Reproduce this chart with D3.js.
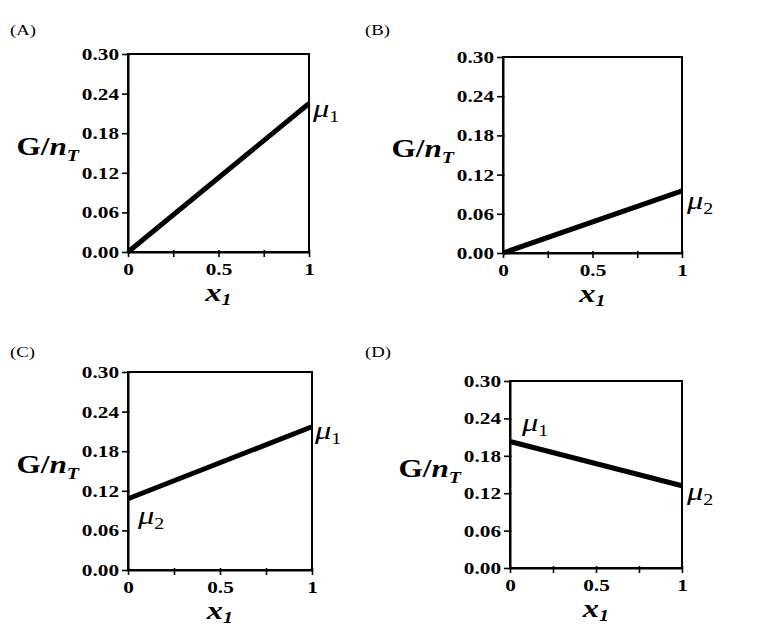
<!DOCTYPE html>
<html>
<head>
<meta charset="utf-8">
<script src="https://cdn.jsdelivr.net/npm/d3@7"></script>
<style>
  body { margin: 0; background: #fff; }
  text { font-family: "Liberation Serif", "Times New Roman", serif; fill: #000; }
</style>
</head>
<body>
<script>
// values
var panelNames = ["(A)", "(B)", "(C)", "(D)"];
var xValues = [0, 1];
var gA = [0.000, 0.225];
var gB = [0.000, 0.095];
var gC = [0.108, 0.217];
var gD = [0.203, 0.132];
var yTicks = [0, 0.06, 0.12, 0.18, 0.24, 0.30];
var yTickLabels = ["0.00", "0.06", "0.12", "0.18", "0.24", "0.30"];
var xTicks = [0, 0.25, 0.5, 0.75, 1];
var xTickLabels = ["0", "", "0.5", "", "1"];
// mu labels: index into xValues and subscript
var muA = [{ end: 1, sub: "1" }];
var muB = [{ end: 1, sub: "2" }];
var muC = [{ end: 1, sub: "1" }, { end: 0, sub: "2" }];
var muD = [{ end: 0, sub: "1" }, { end: 1, sub: "2" }];

var SX = 1.25; // the original figure is stretched sideways

var panels = [
    { name: panelNames[0], g: gA, mu: muA, left: 128, top: 54, right: 309, bottom: 252, lx: 10, ly: 35,
      muPos: [[4, 13]] },
    { name: panelNames[1], g: gB, mu: muB, left: 503, top: 57, right: 682, bottom: 253, lx: 365, ly: 35,
      muPos: [[5, 18]] },
    { name: panelNames[2], g: gC, mu: muC, left: 128, top: 372, right: 312, bottom: 570, lx: 10, ly: 357,
      muPos: [[3, 12], [10, 25]] },
    { name: panelNames[3], g: gD, mu: muD, left: 510, top: 381, right: 682, bottom: 568, lx: 365, ly: 357,
      muPos: [[12, -10], [5, 14]] }
];

var svg = d3.select("body")
    .append("svg")
    .attr("width", 774)
    .attr("height", 641);

function stretched(sel, x, y, anchor) {
    return sel.append("text")
        .attr("text-anchor", anchor)
        .attr("transform", "translate(" + x + "," + y + ") scale(" + SX + ",1)");
}

panels.forEach(function (p) {
    var x = d3.scaleLinear().domain([0, 1]).range([p.left, p.right]);
    var y = d3.scaleLinear().domain([0, 0.30]).range([p.bottom, p.top]);
    var g = svg.append("g");

    // panel letter
    stretched(g, p.lx, p.ly, "start")
        .style("font-size", "15px")
        .text(p.name);

    // y axis
    var ya = g.append("g")
        .attr("transform", "translate(" + p.left + ",0)")
        .call(d3.axisLeft(y)
            .tickValues(yTicks)
            .tickFormat(function (d, i) { return yTickLabels[i]; })
            .tickSize(6)
            .tickSizeOuter(0));

    // x axis
    var xa = g.append("g")
        .attr("transform", "translate(0," + p.bottom + ")")
        .call(d3.axisBottom(x)
            .tickValues(xTicks)
            .tickFormat(function (d, i) { return xTickLabels[i]; })
            .tickSize(5)
            .tickSizeOuter(0));

    [ya, xa].forEach(function (a) {
        a.select(".domain").attr("stroke-width", 2);
        a.selectAll(".tick line").attr("stroke-width", 1.6);
        a.selectAll(".tick text")
            .style("font-family", "'Liberation Serif', 'Times New Roman', serif")
            .style("font-size", "17px")
            .style("font-weight", "bold")
            .attr("transform", "scale(" + SX + ",1)");
    });
    ya.selectAll(".tick line").attr("x2", -6).attr("x1", 1.5);
    ya.selectAll(".tick text").attr("x", -9 / SX);
    xa.selectAll(".tick line").attr("y1", -2).attr("y2", 5);
    xa.selectAll(".tick text").attr("y", 11).attr("x", 0);
    xa.selectAll(".tick text").filter(function () { return this.textContent === ""; }).remove();

    // frame
    g.append("rect")
        .attr("x", p.left)
        .attr("y", p.top)
        .attr("width", p.right - p.left)
        .attr("height", p.bottom - p.top)
        .attr("fill", "none")
        .attr("stroke", "#000")
        .attr("stroke-width", 2);

    // G/n_T line
    var line = d3.line()
        .x(function (d, i) { return x(xValues[i]); })
        .y(function (d) { return y(d); });
    g.append("path")
        .datum(p.g)
        .attr("d", line)
        .attr("fill", "none")
        .attr("stroke", "#000")
        .attr("stroke-width", 5);

    // axis titles
    var yl = stretched(g, p.left - 49, y(0.15) + 2, "end")
        .style("font-size", "25px")
        .style("font-weight", "bold");
    yl.append("tspan").text("G/");
    yl.append("tspan").style("font-style", "italic").text("n");
    yl.append("tspan").style("font-style", "italic").style("font-size", "16px").attr("dy", 6).text("T");

    var xl = stretched(g, (p.left + p.right) / 2, p.bottom + 49, "middle")
        .style("font-size", "26px")
        .style("font-weight", "bold")
        .style("font-style", "italic");
    xl.append("tspan").text("x");
    xl.append("tspan").style("font-size", "16px").attr("dy", 4).text("1");

    // chemical potential labels at the line ends
    p.mu.forEach(function (m, k) {
        var t = stretched(g, x(xValues[m.end]) + p.muPos[k][0], y(p.g[m.end]) + p.muPos[k][1], "start")
            .style("font-size", "26px");
        t.append("tspan").style("font-style", "italic").text("\u03bc");
        t.append("tspan").style("font-size", "16px").attr("dy", 5).text(m.sub);
    });
});
</script>
</body>
</html>
